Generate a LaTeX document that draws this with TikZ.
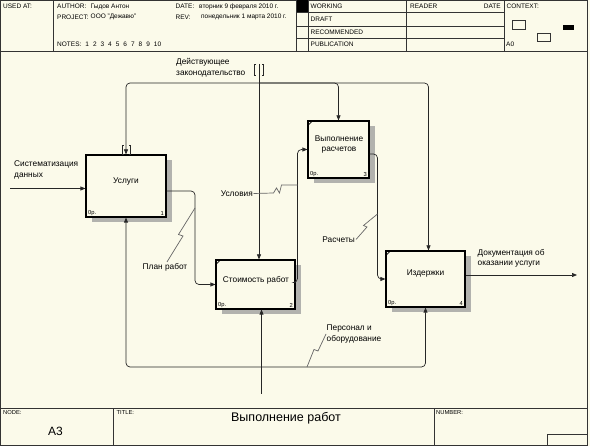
\documentclass[tikz,border=0pt]{standalone}
\usepackage{fontspec}
\setmainfont{Liberation Sans}
\usetikzlibrary{arrows.meta,calc,shadows}
\definecolor{bg}{RGB}{251,250,234}
\definecolor{shd}{RGB}{178,178,174}
\begin{document}
\begin{tikzpicture}[x=1pt,y=-1pt,
  fr/.style={draw=black!80, line width=0.7pt},
  hd/.style={font=\fontsize{6.5}{7}\selectfont, inner sep=0pt, anchor=west},
  ft/.style={font=\fontsize{5.8}{7}\selectfont, inner sep=0pt, anchor=west},
  lab/.style={font=\fontsize{8.3}{10.5}\selectfont, inner sep=0pt, align=left},
  btxt/.style={font=\fontsize{8.3}{10.5}\selectfont, inner sep=0pt, align=center},
  proc/.style={draw=black, line width=1.2pt, fill=bg, inner sep=0pt,
    drop shadow={shadow xshift=5.5pt, shadow yshift=-5.5pt, fill=shd, opacity=1}},
  small/.style={font=\fontsize{5.8}{6}\selectfont, inner sep=0pt},
  conn/.style={draw=black!85, line width=0.7pt},
  arr/.style={conn, -{Triangle[length=5pt,width=4pt]}},
  rc/.style={rounded corners=4pt},
  sq/.style={draw=black!60, line width=0.7pt},
  tun/.style={draw=black!85, line width=0.6pt},
]
\useasboundingbox (0,0) rectangle (590,446);
\fill[bg] (0,0) rectangle (590,446);

% ---------- frame and header ----------
\draw[fr] (0.5,0.5) rectangle (587.5,445);
\draw[fr] (0.5,51) -- (587.5,51);
\draw[fr] (53,0.5) -- (53,51);
\draw[fr] (296.5,0.5) -- (296.5,51);
\draw[fr] (308,0.5) -- (308,51);
\draw[fr] (406.5,0.5) -- (406.5,51);
\draw[fr] (504,0.5) -- (504,51);
\foreach \yy in {12.5,26,38.5} \draw[fr] (296.5,\yy) -- (504,\yy);
\fill[black] (296.5,0.5) rectangle (308,12.5);

\node[hd] (usedat) at (3,6.5) {USED AT:};
\node[hd] (author) at (57,6.5) {AUTHOR:};
\node[hd] (authorv) at (90.5,6.5) {Гыдов Антон};
\node[hd] (project) at (57,17) {PROJECT:};
\node[hd] (projectv) at (90.5,17) {ООО "Дежавю"};
\node[hd] (date) at (175.5,6.5) {DATE:};
\node[hd] (datev) at (199,6.5) {вторник 9 февраля 2010 г.};
\node[hd] (rev) at (175.5,17) {REV:};
\node[hd] (revv) at (201,17) {понедельник 1 марта 2010 г.};
\node[hd] (notes) at (57,44) {NOTES:\hspace{4pt}1\hspace{4pt}2\hspace{4pt}3\hspace{4pt}4\hspace{4pt}5\hspace{4pt}6\hspace{4pt}7\hspace{4pt}8\hspace{4pt}9\hspace{4pt}10};
\node[hd] (working) at (310.5,6.5) {WORKING};
\node[hd] (draft) at (310.5,19.5) {DRAFT};
\node[hd] (recom) at (310.5,32) {RECOMMENDED};
\node[hd] (publ) at (310.5,44.5) {PUBLICATION};
\node[hd] (reader) at (410,6.5) {READER};
\node[hd, anchor=east] (rdate) at (501,6.5) {DATE};
\node[hd] (context) at (506.5,6.5) {CONTEXT:};
\node[hd] (a0) at (506,44.5) {A0};
\draw[fr, line width=0.6pt] (512.5,20.5) rectangle (525,29.5);
\draw[fr, line width=0.6pt] (537.5,33.5) rectangle (550.5,41.5);
\fill[black] (562.5,25) rectangle (574,30);

% ---------- footer ----------
\draw[fr] (0.5,408.5) -- (587.5,408.5);
\draw[fr] (113,408.5) -- (113,445);
\draw[fr] (434,408.5) -- (434,445);
\draw[fr] (547,445) -- (547,434) -- (587.5,434);
\node[ft] (nodel) at (3,413) {NODE:};
\node[ft] (titlel) at (116.5,413) {TITLE:};
\node[ft] (numberl) at (436,413) {NUMBER:};
\node[font=\fontsize{12}{14}\selectfont, inner sep=0pt] (nodev) at (55.5,431) {A3};
\node[font=\fontsize{12.5}{14}\selectfont, inner sep=0pt] (titlev) at (286,418) {Выполнение работ};

% ---------- activity boxes ----------
\node[proc, minimum width=80pt, minimum height=62pt] (b1) at (126,186) {};
\node[proc, minimum width=79pt, minimum height=49pt] (b2) at (255.5,284.5) {};
\node[proc, minimum width=61pt, minimum height=57pt] (b3) at (338.5,149.5) {};
\node[proc, minimum width=79pt, minimum height=56pt] (b4) at (425.5,279) {};

\node[btxt] (t1) at (126,181.5) {Услуги};
\node[btxt] (t2) at (256,280) {Стоимость работ};
\node[btxt] (t3) at (339,144.5) {Выполнение\\расчетов};
\node[btxt] (t4) at (425.5,274) {Издержки};

\foreach \b/\n in {b1/1,b2/2,b3/3,b4/4}{
  \node[small, anchor=south west] (\b o) at ($(\b.south west)+(2.5,-2)$) {0р.};
  \node[small, anchor=south east] (\b n) at ($(\b.south east)+(-2.5,-2)$) {\n};
}
\foreach \b in {b2,b3,b4}
  \draw[line width=0.7pt] ($(\b.north west)+(0,5.5)$) -- ($(\b.north west)+(5.5,0)$);

% ---------- coordinates ----------
\coordinate (in0) at (10,188.5);
\coordinate (ctop) at (259,64);
\coordinate (j1) at (259,83);
\coordinate (mbot) at (261.5,394);
\coordinate (j2) at (261.5,367);
\coordinate (k1) at (195,0);
\coordinate (k2) at (297.5,0);
\coordinate (k3) at (377.5,0);
\coordinate (out0) at (577,275);

% ---------- arrows ----------
\draw[arr] (in0) -- (in0 -| b1.west);
\draw[arr] (ctop) -- (ctop |- b2.north);
\draw[arr,rc] (j1) -| (b1.north);
\draw[arr,rc] (j1) -| (b3.north);
\draw[arr,rc] (j1) -| ([xshift=3pt]b4.north);
\draw[arr] (mbot) -- (mbot |- b2.south);
\draw[arr,rc] (j2) -| (b1.south);
\draw[arr,rc] (j2) -| (b4.south);
\draw[arr,rc] ([yshift=-5pt]b1.east) -| (k1 |- b2.west) -- (b2.west);
\draw[arr,rc] ([yshift=2pt]b2.east) -| (k2 |- b3.west) -- (b3.west);
\draw[arr,rc] ([yshift=-4.5pt]b3.east) -| (k3 |- b4.west) -- (b4.west);
\draw[arr] (out0 -| b4.east) -- (out0);

% tunnels
\draw[tun] (256,64.5) -- (254.5,64.5) -- (254.5,75) -- (256,75);
\draw[tun] (262,64.5) -- (263.5,64.5) -- (263.5,75) -- (262,75);
\draw[tun] (123.5,145) -- (122,145) -- (122,154) -- (123.5,154);
\draw[tun] (129,145) -- (130.5,145) -- (130.5,154) -- (129,154);

% ---------- labels ----------
\node[lab, anchor=west] (lsys) at (14,170) {Систематизация\\данных};
\node[lab, anchor=west] (lzak) at (176,68) {Действующее\\законодательство};
\node[lab, anchor=east] (lusl) at (253,193.5) {Условия};
\node[lab] (lplan) at (165,267) {План работ};
\node[lab, anchor=east] (lras) at (355,239.5) {Расчеты};
\node[lab, anchor=west] (ldoc) at (477.5,258.5) {Документация об\\оказании услуги};
\node[lab, anchor=west] (lpers) at (326.5,334) {Персонал и\\оборудование};

% squiggles
\draw[sq] ([shift={(2,-1)}]lplan.north) -- (183,236) -- (178.5,234.5) -- (195,208);
\draw[sq] ([xshift=0.5pt]lusl.east) -- (273.5,193) -- (276.5,188) -- (279.5,193) -- (281.5,185) -- (297.5,185);
\draw[sq] ([xshift=1pt]lras.east) -- (367,227) -- (363.5,225.5) -- (377.5,214);
\draw[sq] ([xshift=-0.5pt]lpers.west) -- (318,351) -- (314,349.5) -- (307,367);
\end{tikzpicture}
\end{document}
